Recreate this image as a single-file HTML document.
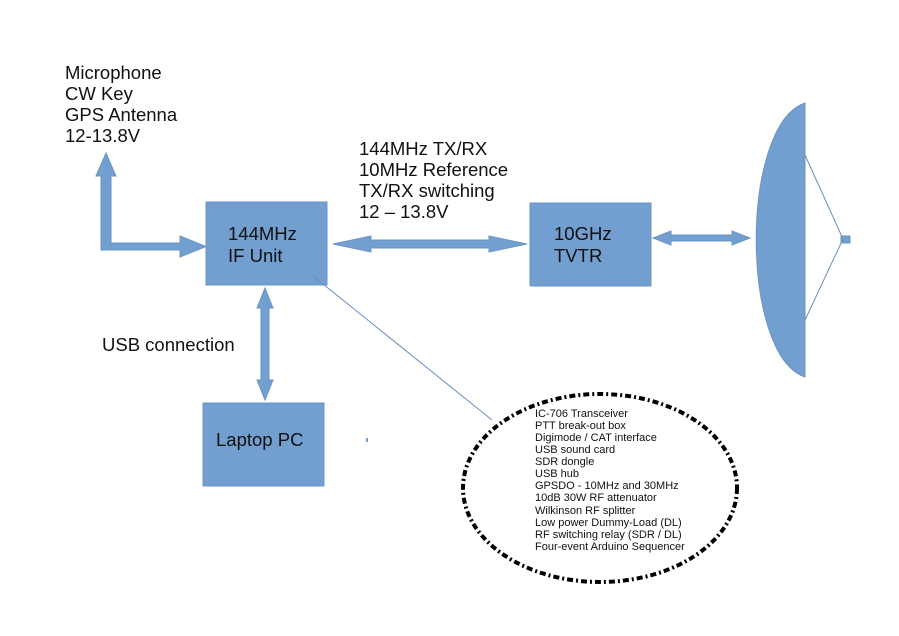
<!DOCTYPE html>
<html><head><meta charset="utf-8"><style>
html,body{margin:0;padding:0;background:#fff;}
svg{display:block;}
text{font-family:"Liberation Sans",sans-serif;fill:#111;}
</style></head><body>
<svg width="899" height="636" viewBox="0 0 899 636" xmlns="http://www.w3.org/2000/svg">
<g fill="#729fcf" stroke="#6a95c4" stroke-width="1">
<rect x="206" y="202" width="121" height="83"/>
<rect x="530" y="203" width="121" height="83"/>
<rect x="203" y="403" width="121" height="83"/>
<polygon points="101,250 101,176 96,176 106,153 116,176 111,176 111,243 180,243 180,236 206,246.5 180,257 180,250"/>
<polygon points="333,244 371,236 371,240 489,240 489,236 527,244 489,252 489,248 371,248 371,252"/>
<polygon points="653,238 671,231 671,235 732,235 732,231 750,238 732,245 732,241 671,241 671,245"/>
<polygon points="265,288 273,308 269,308 269,380 273,380 265,400 257,380 261,380 261,308 257,308"/>
<path d="M805,103 C740,125 740,355 805,377 Z"/>
<rect x="841" y="236" width="9" height="7"/>
<rect x="366" y="438" width="2" height="4" stroke="none"/>
</g>
<g stroke="#6a8fbf" stroke-width="1" fill="none">
<polyline points="805,155 843,239 805,320"/>
<line x1="313" y1="276" x2="492" y2="420"/>
</g>
<ellipse cx="600" cy="488" rx="137" ry="94" fill="none" stroke="#000" stroke-width="4" stroke-dasharray="6,3 2,3"/>
<g font-size="18.5">
<text x="65" y="79">Microphone</text>
<text x="65" y="100">CW Key</text>
<text x="65" y="121">GPS Antenna</text>
<text x="65" y="142">12-13.8V</text>
<text x="359" y="155">144MHz TX/RX</text>
<text x="359" y="176">10MHz Reference</text>
<text x="359" y="197">TX/RX switching</text>
<text x="359" y="218">12 – 13.8V</text>
<text x="228" y="240">144MHz</text>
<text x="228" y="262">IF Unit</text>
<text x="554" y="240">10GHz</text>
<text x="554" y="262">TVTR</text>
<text x="216" y="446">Laptop PC</text>
<text x="102" y="351">USB connection</text>
</g>
<g font-size="11">
<text x="535" y="417">IC-706 Transceiver</text>
<text x="535" y="429">PTT break-out box</text>
<text x="535" y="441">Digimode / CAT interface</text>
<text x="535" y="453">USB sound card</text>
<text x="535" y="465">SDR dongle</text>
<text x="535" y="477">USB hub</text>
<text x="535" y="489">GPSDO - 10MHz and 30MHz</text>
<text x="535" y="501">10dB 30W RF attenuator</text>
<text x="535" y="514">Wilkinson RF splitter</text>
<text x="535" y="526">Low power Dummy-Load (DL)</text>
<text x="535" y="538">RF switching relay (SDR / DL)</text>
<text x="535" y="550">Four-event Arduino Sequencer</text>
</g>
</svg>
</body></html>
